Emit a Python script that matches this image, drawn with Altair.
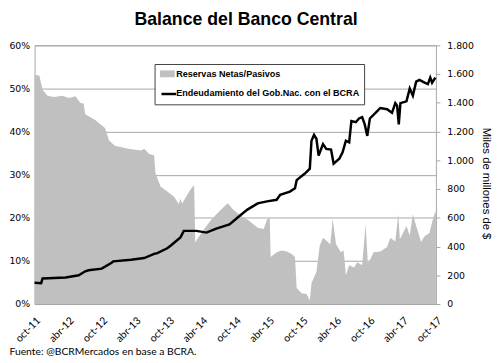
import altair as alt
import pandas as pd

title_text = "Balance del Banco Central"
source_text = "Fuente: @BCRMercados en base a BCRA."
serie_area = "Reservas Netas/Pasivos"
serie_line = "Endeudamiento del Gob.Nac. con el BCRA"
right_title = "Miles de millones de $"

area_dates = ["2011-10-01", "2011-10-03", "2011-10-27", "2011-11-14", "2011-12-11", "2012-01-16",
              "2012-03-01", "2012-04-06", "2012-05-11", "2012-06-08", "2012-06-25", "2012-07-04",
              "2012-08-27", "2012-10-20", "2012-11-11", "2012-12-13", "2013-02-23", "2013-05-04",
              "2013-05-22", "2013-06-18", "2013-07-15", "2013-07-23", "2013-08-20", "2013-09-25",
              "2013-11-01", "2013-11-27", "2013-12-06", "2013-12-15", "2014-01-29", "2014-02-19",
              "2014-02-25", "2014-04-01", "2014-05-24", "2014-07-16", "2014-08-22", "2014-09-18",
              "2014-11-02", "2014-12-07", "2015-02-01", "2015-03-06", "2015-03-24", "2015-04-08",
              "2015-04-13", "2015-05-16", "2015-06-13", "2015-07-10", "2015-08-06", "2015-08-24",
              "2015-09-02", "2015-09-29", "2015-10-26", "2015-11-13", "2015-11-22", "2015-12-19",
              "2016-01-06", "2016-01-24", "2016-02-20", "2016-03-04", "2016-03-17", "2016-04-04",
              "2016-05-01", "2016-05-15", "2016-05-19", "2016-05-28", "2016-06-15", "2016-07-12",
              "2016-07-29", "2016-08-25", "2016-09-13", "2016-09-25", "2016-10-10", "2016-10-27",
              "2016-12-02", "2017-01-08", "2017-01-26", "2017-02-22", "2017-03-10", "2017-03-19",
              "2017-04-24", "2017-05-12", "2017-05-29", "2017-06-16", "2017-07-13", "2017-08-01",
              "2017-08-27", "2017-09-15", "2017-09-29", "2017-10-02"]
area_pct = [52.8, 53.1, 53.0, 49.7, 48.3, 48.0,
            48.3, 47.8, 48.2, 46.6, 46.5, 44.0,
            42.7, 40.8, 37.9, 36.7, 36.0, 35.6,
            36.0, 34.8, 34.5, 30.3, 27.2, 26.1,
            24.9, 23.2, 24.4, 23.3, 26.5, 27.6,
            14.3, 16.6, 19.6, 21.9, 23.4, 22.0,
            20.4, 19.6, 17.7, 17.4, 19.6, 20.0,
            10.9, 12.0, 12.4, 12.2, 11.6, 10.9,
            3.7, 2.5, 2.3, 0.8, 4.8, 7.5,
            13.5, 15.4, 14.4, 13.8, 19.8, 13.9,
            12.0, 12.5, 11.0, 6.7, 9.0, 8.5,
            9.7, 9.0, 18.5, 9.5, 10.5, 12.0,
            12.2, 13.2, 15.4, 14.5, 20.8, 15.0,
            18.1, 15.9, 20.8, 18.1, 14.4, 15.7,
            16.4, 19.6, 21.5, 21.0]

line_dates = ["2011-10-01", "2011-11-06", "2011-11-14", "2012-03-19", "2012-05-29", "2012-07-04",
              "2012-07-22", "2012-10-02", "2012-11-25", "2012-12-04", "2013-03-11", "2013-05-22",
              "2013-07-15", "2013-08-02", "2013-09-25", "2013-10-13", "2013-12-06", "2013-12-24",
              "2014-03-04", "2014-04-27", "2014-06-20", "2014-08-31", "2014-10-23", "2014-12-07",
              "2015-02-01", "2015-03-24", "2015-05-16", "2015-06-04", "2015-07-27", "2015-08-24",
              "2015-09-02", "2015-10-17", "2015-11-13", "2015-11-22", "2015-12-06", "2015-12-19",
              "2015-12-31", "2016-01-24", "2016-02-11", "2016-03-08", "2016-03-22", "2016-04-22",
              "2016-05-10", "2016-05-28", "2016-06-15", "2016-06-27", "2016-07-21", "2016-08-08",
              "2016-08-25", "2016-09-08", "2016-09-22", "2016-10-06", "2016-11-06", "2016-12-02",
              "2017-01-08", "2017-02-04", "2017-02-22", "2017-03-04", "2017-03-13", "2017-03-22",
              "2017-04-24", "2017-05-12", "2017-05-29", "2017-06-16", "2017-07-04", "2017-08-01",
              "2017-08-19", "2017-09-01", "2017-09-11", "2017-09-29"]
line_values = [148, 145, 178, 185, 200, 228, 235, 246, 287, 297,
               308, 320, 349, 354, 388, 406, 463, 509, 509, 497,
               525, 554, 611, 657, 700, 714, 725, 760, 782, 806,
               862, 908, 942, 1136, 1177, 1150, 1033, 1113, 1079, 1075,
               977, 1011, 1056, 1136, 1125, 1273, 1265, 1291, 1300, 1250,
               1170, 1291, 1330, 1364, 1355, 1330, 1398, 1380, 1250, 1398,
               1410, 1500, 1450, 1547, 1560, 1540, 1530, 1575, 1540, 1575]

tick_months = [(2011, 10), (2012, 4), (2012, 10), (2013, 4), (2013, 10), (2014, 4), (2014, 10),
               (2015, 4), (2015, 10), (2016, 4), (2016, 10), (2017, 4), (2017, 10)]
month_names = ["ene", "feb", "mar", "abr", "may", "jun", "jul", "ago", "sep", "oct", "nov", "dic"]
pct_ticks = [0, 10, 20, 30, 40, 50, 60]
right_ticks = [0, 200, 400, 600, 800, 1000, 1200, 1400, 1600, 1800]

area_df = pd.DataFrame({"fecha": pd.to_datetime(area_dates), "pct": area_pct, "serie": serie_area})
line_df = pd.DataFrame({"fecha": pd.to_datetime(line_dates), "valor": line_values, "serie": serie_line})

months_js = "[" + ",".join("'%s'" % m for m in month_names) + "]"
x_label_expr = months_js + "[month(datum.value)] + '-' + timeFormat(datum.value, '%y')"

x_scale = alt.Scale(domain=[alt.DateTime(year=2011, month=10, date=1),
                            alt.DateTime(year=2017, month=10, date=2)])


def make_x_axis():
    return alt.Axis(values=[alt.DateTime(year=y, month=m, date=1) for y, m in tick_months],
                    labelExpr=x_label_expr, labelAngle=-45, labelAlign="right",
                    labelBaseline="middle", labelFont="Lato", labelFontSize=10.5,
                    labelColor="black", labelPadding=15, labelOffset=4, labelOverlap=False,
                    labelSeparation=0, labelBound=False, ticks=False,
                    domain=False, grid=False,
                    title=source_text, titleX=-26, titleY=51, titleAlign="left",
                    titleAnchor="start", titleBaseline="alphabetic", titleFont="Lato",
                    titleFontSize=10.5, titleFontWeight="normal", titleColor="black")


area = alt.Chart(area_df).mark_area(interpolate="linear").encode(
    x=alt.X("fecha:T", scale=x_scale, axis=make_x_axis()),
    y=alt.Y("pct:Q", scale=alt.Scale(domain=[0, 60], nice=False),
            axis=alt.Axis(values=pct_ticks, labelExpr="datum.value + '%'", grid=True,
                          gridColor="#a6a6a6", domain=False, ticks=False,
                          labelFont="DejaVu Sans", labelFontSize=9.5, labelPadding=5,
                          labelColor="black", title=None)),
    fill=alt.Fill("serie:N",
                  scale=alt.Scale(domain=[serie_area, serie_line], range=["#c0c0c0", "#ffffff"]),
                  legend=alt.Legend(orient="none", legendX=122, legendY=19, title=None,
                                    direction="vertical",
                                    symbolType="M-1.5,-0.7H1.5V0.7H-1.5Z", symbolSize=100,
                                    symbolStrokeWidth=0, symbolOffset=3, labelOffset=4,
                                    labelFont="Liberation Sans", labelFontSize=9.2,
                                    labelFontWeight="bold", labelColor="black", labelLimit=300,
                                    padding=5, rowPadding=9, fillColor="white",
                                    strokeColor="#404040", zindex=1)),
)

line = alt.Chart(line_df).mark_line(strokeWidth=2.5).encode(
    x=alt.X("fecha:T", scale=x_scale, axis=make_x_axis()),
    y=alt.Y("valor:Q", scale=alt.Scale(domain=[0, 1800], nice=False),
            axis=alt.Axis(orient="right", values=right_ticks,
                          labelExpr="replace(format(datum.value, ',.0f'), ',', '.')",
                          grid=False, domain=False, ticks=True, tickSize=4,
                          tickColor="#a6a6a6", labelPadding=7, labelFont="DejaVu Sans",
                          labelFontSize=9.5, labelColor="black",
                          title=right_title, titleAngle=90, titleX=50, titleY=140,
                          titleAlign="center", titleBaseline="middle",
                          titleFont="Liberation Sans", titleFontSize=11.5,
                          titleFontWeight="normal", titleColor="black")),
    stroke=alt.Stroke("serie:N", scale=alt.Scale(domain=[serie_line], range=["#000000"]),
                      legend=alt.Legend(orient="none", legendX=127.5, legendY=40.5, title=None,
                                        symbolType="stroke", symbolSize=225,
                                        symbolStrokeWidth=2.5, labelExpr="''", padding=0,
                                        symbolOffset=0, zindex=2)),
)

chart = alt.layer(area, line).resolve_scale(y="independent").properties(
    width=408, height=263,
    padding={"left": 27, "top": 35, "right": 57, "bottom": 56},
    autosize=alt.AutoSizeParams(type="none"),
    title=alt.TitleParams(text=title_text, font="Liberation Sans", fontSize=18,
                          fontWeight="bold", anchor="middle", dx=11, offset=12, color="black"),
).configure_view(stroke="#a6a6a6", strokeWidth=1)

chart.save("out.html", embed_options={"renderer": "svg", "actions": False})
